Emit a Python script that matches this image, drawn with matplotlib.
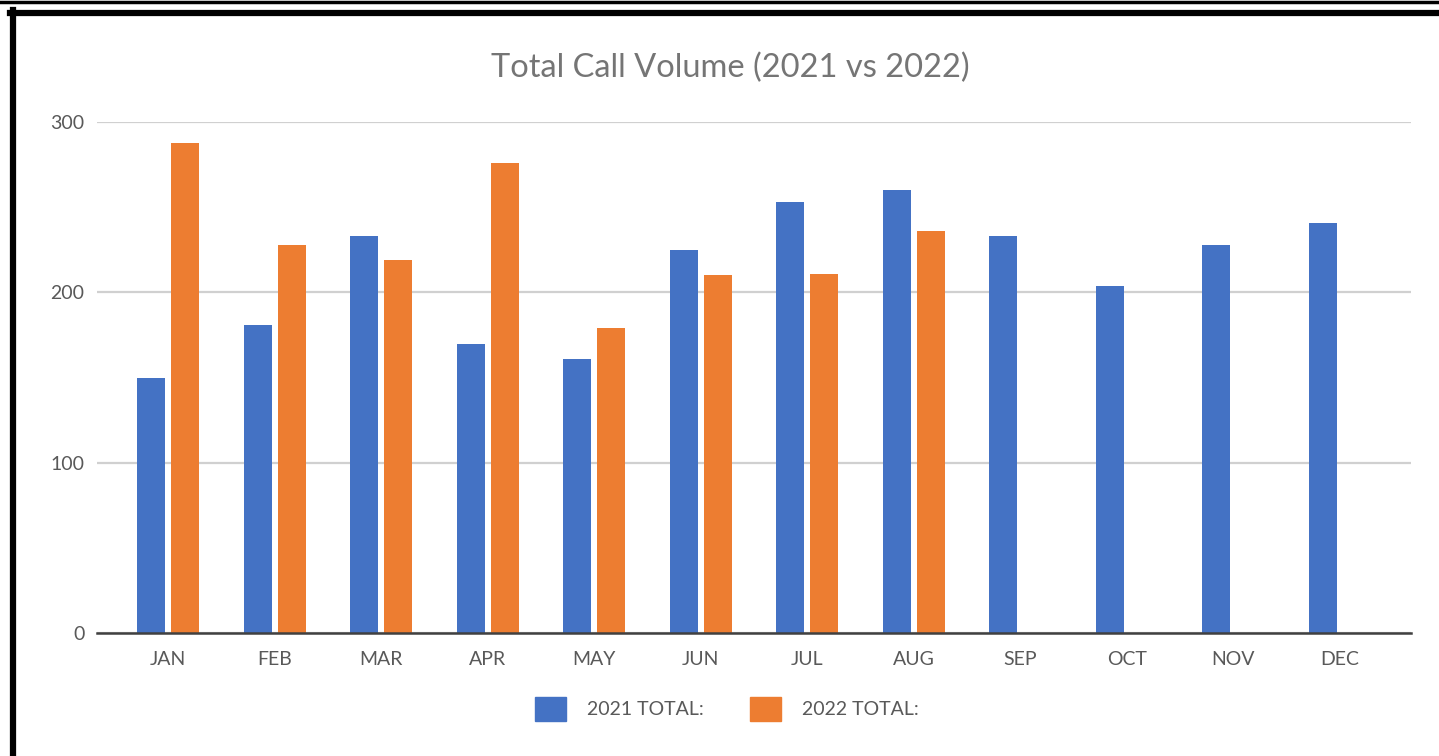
import matplotlib.pyplot as plt
from matplotlib.lines import Line2D
from matplotlib.patches import Patch
import numpy as np

# data
months = ['JAN', 'FEB', 'MAR', 'APR', 'MAY', 'JUN', 'JUL', 'AUG', 'SEP', 'OCT', 'NOV', 'DEC']
total_2021 = [150, 181, 233, 170, 161, 225, 253, 260, 233, 204, 228, 241]
total_2022 = [288, 228, 219, 276, 179, 210, 211, 236]
yticks = [0, 100, 200, 300]

blue = '#4472C4'
orange = '#ED7D31'
txt = '#595959'

plt.rcParams['font.family'] = ['Lato', 'DejaVu Sans']

fig = plt.figure(figsize=(14.39, 7.56), dpi=100)
ax = fig.add_axes([97 / 1439, 123 / 756, 1314 / 1439, 510.8 / 756])

x = np.arange(len(months))
w = 0.263
off = 0.16
ax.bar(x - off, total_2021, width=w, color=blue, zorder=3)
ax.bar(x[:len(total_2022)] + off, total_2022, width=w, color=orange, zorder=3)

ax.set_xlim(-0.667, len(months) - 1 + 0.667)
ax.set_ylim(0, 300)
ax.set_yticks(yticks)
ax.set_xticks(x)
ax.set_xticklabels(months)
ax.tick_params(axis='both', length=0, labelsize=14, colors=txt)
ax.tick_params(axis='x', pad=13)
ax.tick_params(axis='y', pad=9)
ax.grid(axis='y', color='#D0D0D0', linewidth=1.6, zorder=0)
for s in ['top', 'right', 'left']:
    ax.spines[s].set_visible(False)
ax.spines['bottom'].set_color('#404040')
ax.spines['bottom'].set_linewidth(1.8)
ax.spines['bottom'].set_zorder(4)

fig.text(730 / 1439, 1 - 68 / 756, 'Total Call Volume (2021 vs 2022)', ha='center', va='center',
         fontsize=23.5, color='#757575')

handles = [Patch(color=blue, label='2021 TOTAL:'), Patch(color=orange, label='2022 TOTAL:')]
fig.legend(handles=handles, loc='center', bbox_to_anchor=(727 / 1439, 1 - 709 / 756), ncol=2,
           frameon=False, fontsize=14, labelcolor=txt, handlelength=1.6, handleheight=1.6,
           handletextpad=1.08, columnspacing=2.4)

# black frame lines of the screenshot
fig.add_artist(Line2D([0, 1], [1 - 1.5 / 756, 1 - 1.5 / 756], color='black', linewidth=2.5,
                      transform=fig.transFigure))
fig.add_artist(Line2D([10 / 1439, 1], [1 - 13 / 756, 1 - 13 / 756], color='black', linewidth=4.5,
                      transform=fig.transFigure))
fig.add_artist(Line2D([13 / 1439, 13 / 1439], [0, 1 - 10 / 756], color='black', linewidth=4.5,
                      transform=fig.transFigure))

fig.savefig('out.png', dpi=100)
